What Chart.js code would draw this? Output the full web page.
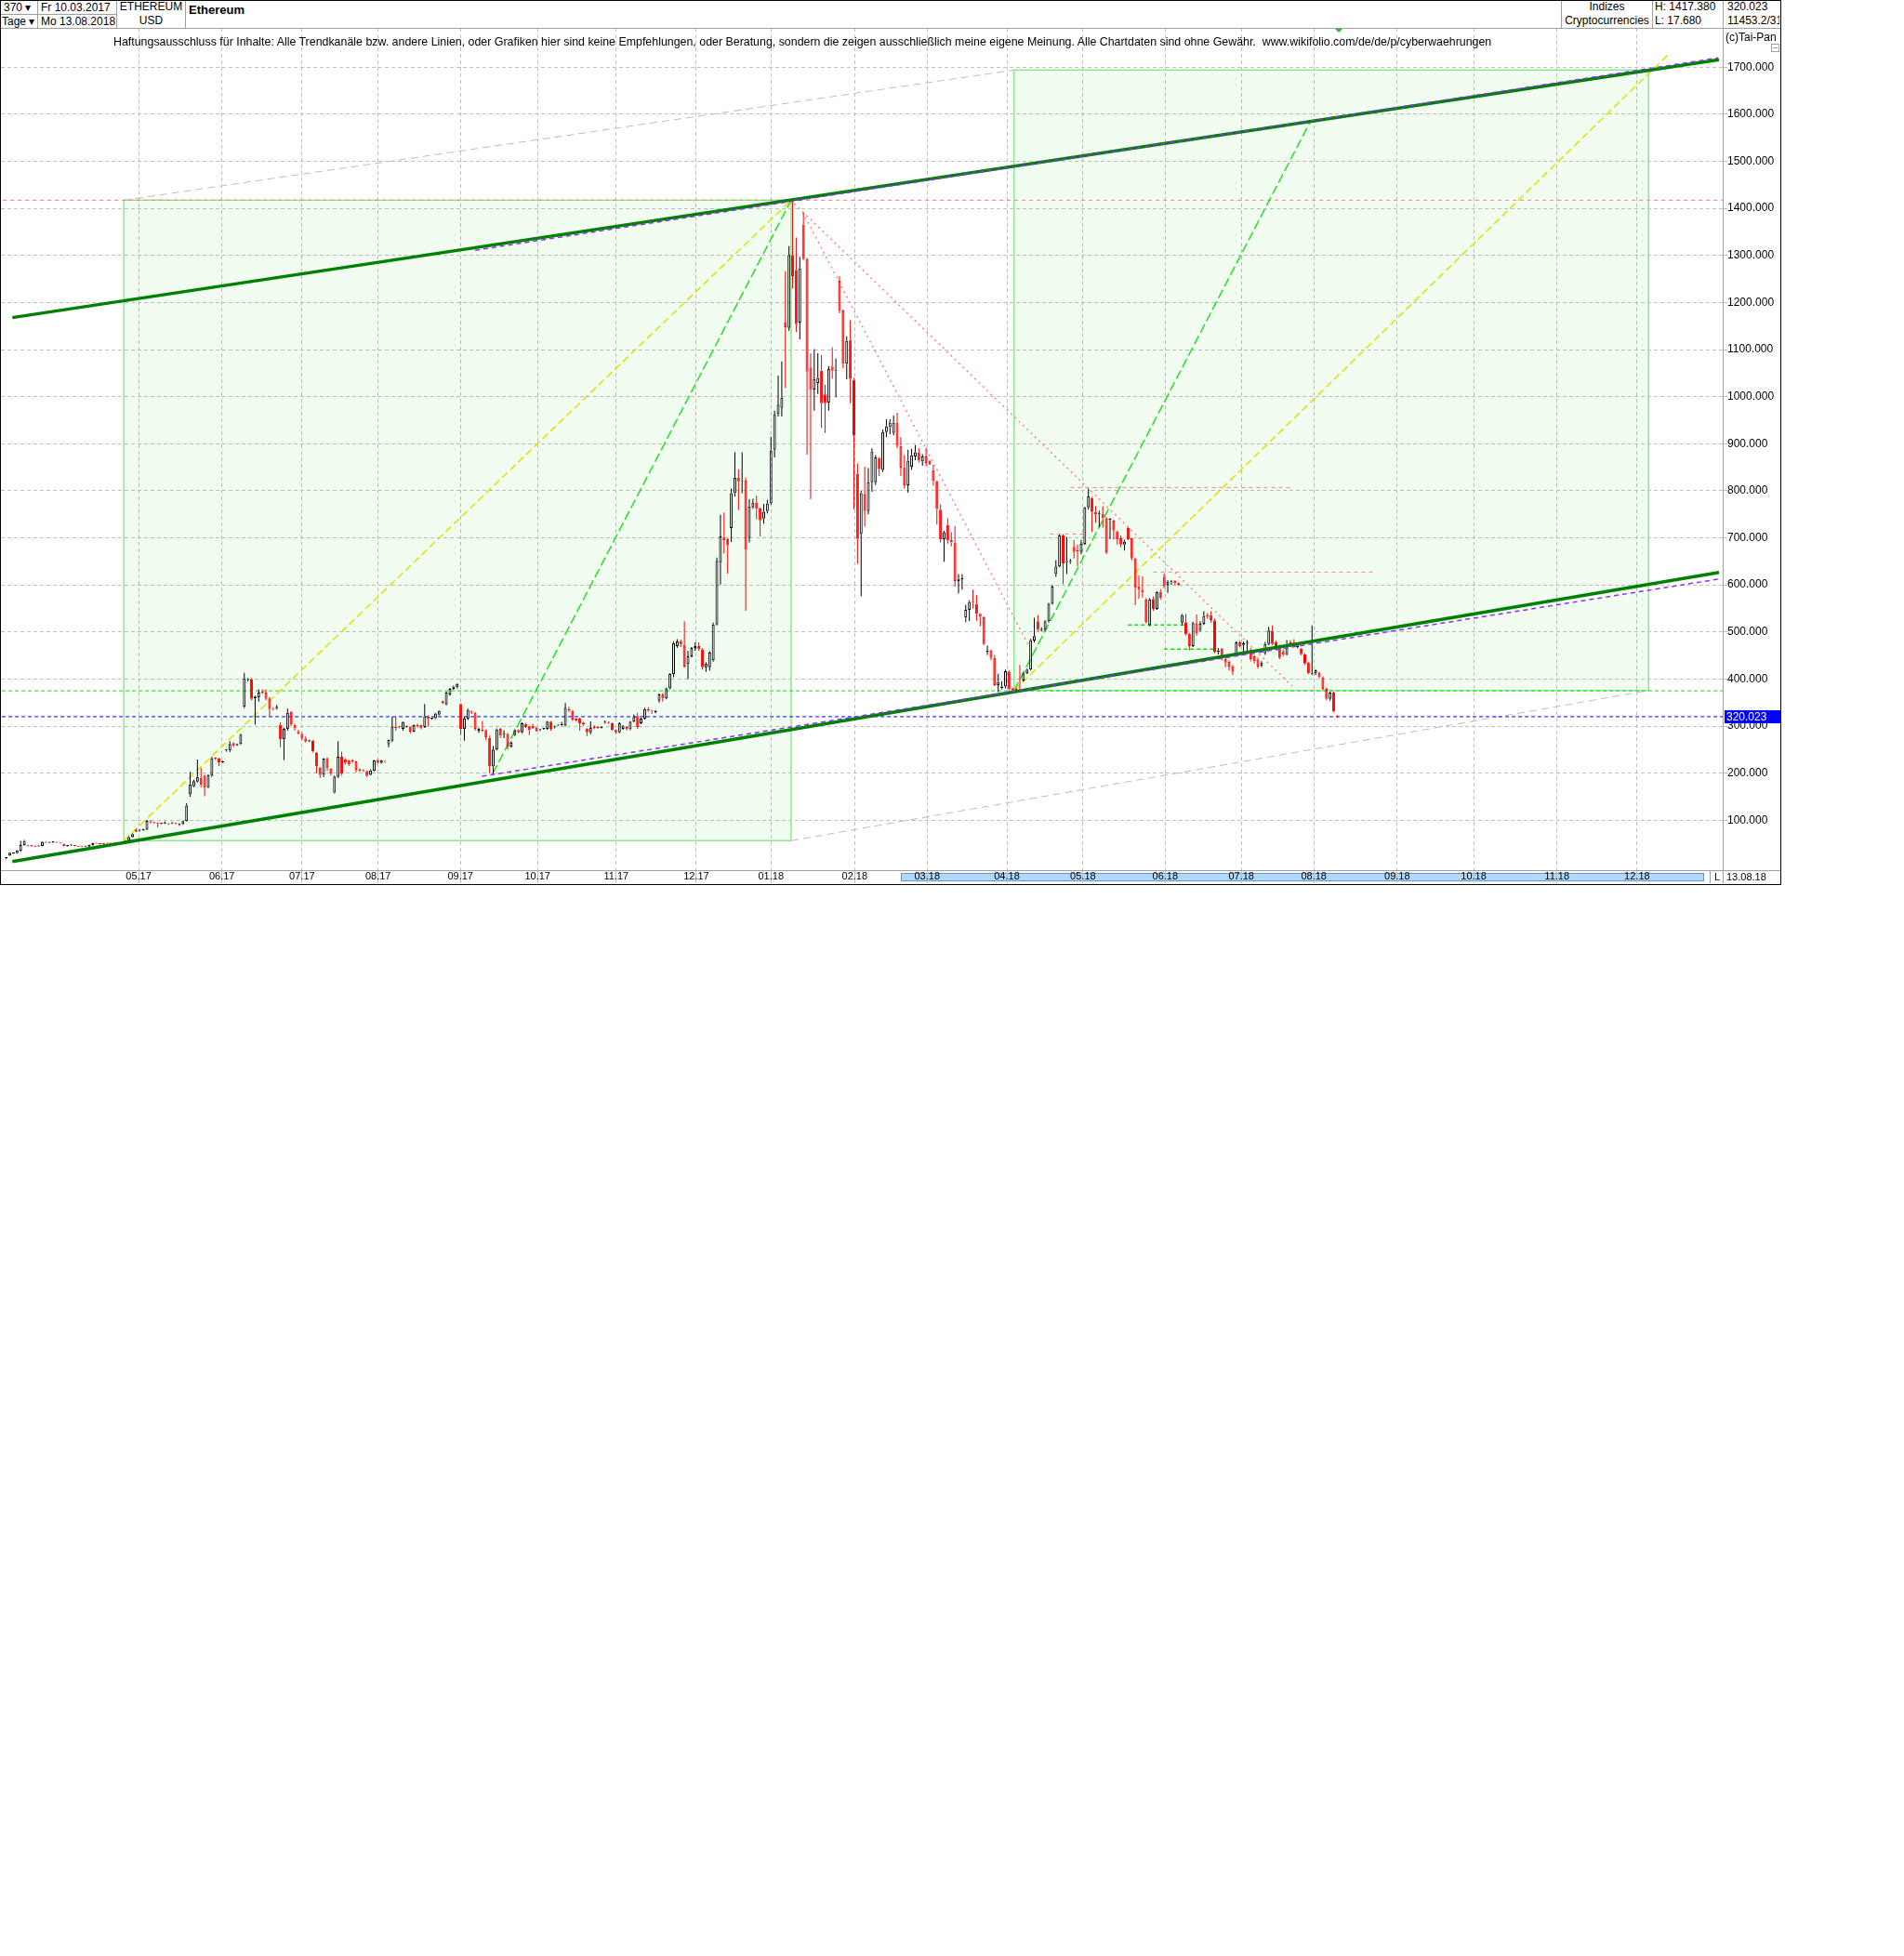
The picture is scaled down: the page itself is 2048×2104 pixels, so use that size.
<!DOCTYPE html>
<html lang="de">
<head>
<meta charset="utf-8">
<title>Ethereum</title>
<script src="https://cdn.jsdelivr.net/npm/chart.js@4.4.1/dist/chart.umd.min.js"></script>
<style>
  html, body { margin: 0; padding: 0; background: #ffffff; }
  body { position: relative; width: 2048px; height: 2104px; font-family: "Liberation Sans", Arial, sans-serif; color: #000; }
  .txt { position: absolute; white-space: nowrap; font-size: 12px; line-height: 14px; z-index: 3; }
  .vl { position: absolute; top: 0; width: 1px; height: 30px; background: #a0a0a0; }
  .hl { position: absolute; height: 1px; background: #a0a0a0; }
  #rahmen { position: absolute; left: 0; top: 0; width: 1916px; height: 952px; border: 1px solid #000; box-sizing: border-box; pointer-events: none; z-index: 5; }
  #grafik { position: absolute; left: 1px; top: 30px; }
  #marke { position: absolute; left: 1436px; top: 31px; width: 0; height: 0; border-left: 4px solid transparent; border-right: 4px solid transparent; border-top: 4px solid #22bb22; z-index: 4; }
  #knopf { position: absolute; left: 1905px; top: 47px; width: 7px; height: 7px; border: 1px solid #a0a0a0; z-index: 4; }
  #knopf:after { content: ""; position: absolute; left: 1px; top: 3px; width: 5px; height: 1px; background: #a0a0a0; }
</style>
</head>
<body>
<canvas id="grafik" width="1914" height="920"></canvas>

<!-- Kopfzeile -->
<div class="hl" style="left:0;top:30px;width:1916px"></div>
<div class="hl" style="left:0;top:15px;width:125px"></div>
<div class="vl" style="left:40px"></div>
<div class="vl" style="left:125px"></div>
<div class="vl" style="left:199px"></div>
<div class="vl" style="left:1679px"></div>
<div class="vl" style="left:1777px"></div>
<div class="vl" style="left:1853px"></div>
<div class="txt" style="left:4px;top:1px">370 ▾</div>
<div class="txt" style="left:2px;top:16px">Tage ▾</div>
<div class="txt" style="left:44px;top:1px">Fr 10.03.2017</div>
<div class="txt" style="left:44px;top:16px">Mo 13.08.2018</div>
<div class="txt" style="left:126px;top:0px;width:73px;text-align:center">ETHEREUM</div>
<div class="txt" style="left:126px;top:15px;width:73px;text-align:center">USD</div>
<div class="txt" style="left:203px;top:4px;font-weight:bold;font-size:13px">Ethereum</div>
<div class="txt" style="left:1680px;top:0px;width:97px;text-align:center">Indizes</div>
<div class="txt" style="left:1680px;top:15px;width:97px;text-align:center">Cryptocurrencies</div>
<div class="txt" style="left:1780px;top:0px">H: 1417.380</div>
<div class="txt" style="left:1780px;top:15px">L: 17.680</div>
<div class="txt" style="left:1858px;top:0px">320.023</div>
<div class="txt" style="left:1858px;top:15px;width:56px;overflow:hidden">11453.2/31</div>
<div class="txt" style="left:122px;top:38px;font-size:12.4px">Haftungsausschluss für Inhalte: Alle Trendkanäle bzw. andere Linien, oder Grafiken hier sind keine Empfehlungen, oder Beratung, sondern die zeigen ausschließlich meine eigene Meinung. Alle Chartdaten sind ohne Gewähr.&nbsp; www.wikifolio.com/de/de/p/cyberwaehrungen</div>
<div class="txt" style="left:1856px;top:33px">(c)Tai-Pan</div>
<div id="knopf"></div>
<div id="marke"></div>
<div id="rahmen"></div>

<script>
/* ---------------------------------------------
# ETHEREUM / USD - Tageskerzen 10.03.2017 bis 13.08.2018
--------------------------------------------- */

// Kursdaten (je 10 Tage pro Zeile)
const eroeffnung = [
    19.5, 25, 29.5, 30, 35, 47, 46, 46, 45, 44.5,
    45.5, 53, 52, 53, 53, 52, 49.5, 45.5, 46, 46,
    45, 44.5, 44, 44, 47, 51, 50, 49.5, 51, 51,
    51, 50.5, 50.5, 50, 56, 64, 80, 78, 79, 80,
    98, 95, 94, 93.5, 93, 92.5, 93, 94, 91, 91.5,
    98, 155, 172, 182, 190, 195, 170, 195, 233, 231,
    223, 248, 248, 264, 259, 262, 341, 398, 399, 359,
    361, 374, 371, 359, 338, 338, 303, 272, 294, 330,
    303, 289, 284, 274, 268, 269, 243, 212, 196.5, 232,
    209, 159, 192, 235, 230, 227, 228, 225, 208, 207,
    205, 196.5, 205, 228, 221.5, 225.5, 261, 269, 298, 299,
    294, 298.5, 299, 288, 302, 302, 298, 321, 316, 317,
    324.5, 353, 346, 367, 379, 382, 347, 294, 316, 331,
    328, 290, 293, 291.7, 275, 214, 250, 294, 282, 283,
    256.8, 281, 291.7, 286.5, 305, 299.7, 301, 296, 291, 294,
    294, 309.6, 297, 301, 302, 301, 336, 332.7, 316, 316,
    307.6, 295, 286.5, 297, 297, 296, 307, 308, 306, 291.7,
    286.5, 294, 298, 293, 309.6, 320.8, 306, 316, 336, 333,
    328.7, 353.8, 367, 359, 380, 410.6, 470, 480, 473, 431.7,
    448, 466, 470, 463, 425, 425, 439.6, 516, 646.8, 701.5,
    697, 720.6, 795, 828, 819, 822, 699.5, 765, 775, 763,
    741, 757, 773, 887, 963, 976, 1158.8, 1146, 1301, 1269.5,
    1157.5, 1366, 1292, 1062, 1015, 1029, 1055, 1004.6, 987.5, 1064,
    1054, 1246.5, 1183, 1070, 1120.6, 1035.6, 836, 708, 791.8, 756.8,
    818, 818, 870, 844.5, 925, 935, 923, 945, 895, 850,
    811.5, 851, 873, 882, 862, 873, 863.5, 844, 820.7, 760,
    697, 727, 695, 690, 608, 612, 530.6, 547, 564, 560,
    538.6, 531, 457, 461, 445, 387, 380.4, 384, 416, 380,
    379, 400, 397, 412, 420, 482, 522.7, 504, 504.3, 522.7,
    560, 623, 639.4, 705, 648, 649, 681, 674.6, 670, 687,
    765, 784.8, 755, 750, 751, 742, 738, 737, 714, 699,
    686, 721, 699, 656, 597, 590, 569, 514.2, 570, 549,
    584.8, 617.8, 600, 606, 608.6, 604, 520, 520.8, 496, 470,
    518.8, 504, 517.5, 536, 536, 525, 457, 464.7, 443, 437,
    427, 452.8, 478, 472.6, 477, 461.4, 448, 441.6, 428, 454.8,
    474.6, 503, 478, 471, 459, 452.8, 478, 479, 468, 464.7,
    452.8, 435, 410, 412, 413, 404, 379, 358, 371, 322
];
const hoch = [
    21, 32, 31, 37, 56, 58, 47, 47, 46, 46,
    55, 54, 53, 55, 54, 52.5, 50, 46.5, 48, 47,
    45.5, 45, 45, 47.5, 52, 52, 50.5, 51, 51.5, 51.5,
    51.5, 51.5, 51, 57, 66, 72, 82, 81, 82, 100,
    100, 96, 95, 94, 97, 93, 96, 95, 93, 99,
    136, 203, 186, 229, 211, 197, 198, 235, 234, 233,
    226, 251, 268, 266, 263, 284, 413, 402, 402, 365,
    378, 378, 378, 362, 340, 345, 308, 296, 337, 332,
    305, 292, 286, 278, 271, 271, 245, 213, 232, 234,
    210, 195, 268, 246, 232, 228, 230, 226, 210, 208,
    206, 208, 228, 230, 228, 226, 272, 320, 320, 300,
    310, 301, 300, 303, 305, 303, 347, 323, 318, 328,
    333, 355, 373, 381, 386, 391, 348, 320, 337, 333,
    330, 296, 311, 293, 280, 258, 295, 296, 291, 286,
    268, 293, 293, 308, 307, 301, 305, 297, 294, 296,
    311, 311, 301, 303, 309, 349, 341, 334, 317, 318,
    309, 296, 310, 302, 300, 299, 312, 310, 307, 293,
    308, 302, 300, 311, 325, 328, 318, 339, 340, 334,
    334, 369, 370, 382, 412, 480, 485, 484, 523, 460,
    468, 478, 478, 466, 436, 459, 520, 658, 749, 754,
    700, 805, 882, 846, 882, 828, 782, 783, 790, 765,
    772, 781, 915, 970, 1045, 1075, 1267, 1320, 1417.38, 1338,
    1297, 1391, 1295, 1092, 1101, 1092, 1088, 1025, 1065, 1105,
    1081, 1256, 1185, 1128, 1163, 1040, 858, 800, 851, 848,
    890, 876, 872, 930, 952, 952, 960, 966, 914, 876,
    887, 889, 897, 890, 878, 891, 866, 855, 822, 771,
    715, 741.6, 712, 725, 623, 623, 558, 567, 590, 578,
    540, 533, 471, 463, 451, 411, 395, 420, 418, 382,
    381, 430, 414, 422, 486, 530, 536, 510, 525, 562,
    600, 652.6, 707, 708, 702, 655, 695, 686, 695.7, 766,
    804.6, 787, 767, 758, 767, 744, 742, 739, 716, 705,
    696, 723, 700, 658, 620, 618, 572, 572, 575, 587,
    591, 624.4, 610, 610, 610, 606, 538, 538.6, 498, 522,
    537, 523, 544, 540, 544, 528, 466, 466, 446, 440,
    430, 480, 481, 480, 483, 466, 450, 446, 438, 479,
    511, 514, 482, 473, 463, 483, 483, 485, 477, 466,
    455, 437, 514, 420, 416, 406, 382, 373, 373, 323
];
const tief = [
    17.68, 24, 29, 29, 33, 46, 44, 44, 43, 44,
    45, 51, 51, 52, 51, 50, 45, 44.5, 45.5, 45,
    43.5, 43, 43.5, 43.5, 46.5, 49.5, 48.5, 49, 49.5, 49.5,
    49.5, 49.5, 49, 49, 55, 63, 75, 76, 78, 79,
    93, 92, 85, 91, 92, 90, 92, 91, 88, 90,
    97, 150, 170, 180, 170, 151, 168, 192, 228, 215,
    222, 246, 245, 255, 258, 260, 338, 395, 355, 303,
    352, 368, 355, 321, 333, 335, 255, 228, 290, 300,
    290, 282, 270, 265, 266, 244, 200, 190, 192, 205,
    195, 157, 190, 195, 218, 215, 222, 202, 203, 203,
    192, 195, 204, 220, 220, 222, 255, 266, 290, 295,
    290, 297, 285, 287, 297, 293, 296, 299, 314, 315,
    323, 347, 344, 365, 377, 380, 281, 269, 313, 326,
    290, 286, 288, 270, 201, 197, 248, 275, 274.6, 250,
    254, 279, 285, 285, 296, 281, 294, 288, 289, 292,
    292, 290, 295, 300, 301, 299, 330, 311, 309, 290,
    301, 279, 283, 293, 294, 295, 305, 305, 290, 284,
    285, 292, 290, 291, 308, 294, 304, 314, 330, 326,
    327, 350, 352, 357, 378, 404, 466, 468, 424, 400,
    446, 460, 460, 420, 415, 418, 437, 514, 601, 667,
    624, 691, 788, 759, 795, 545, 690, 762, 739, 703,
    730, 752, 770, 871, 958, 958, 1018, 1140, 1230, 1137,
    1122, 1290, 877, 782, 970, 1006, 933, 923, 970, 1038,
    999, 1177, 1060, 1037, 986, 761, 645, 576, 724, 750,
    798, 812, 831, 840, 914, 920, 918, 890, 831, 805,
    796, 845, 865, 860, 853, 852, 854, 811, 728, 690,
    649, 687.5, 682, 596.6, 582, 590, 521, 523, 550, 524,
    512, 472, 451, 440, 385, 372, 378, 380, 375.7, 372,
    373, 376, 395, 410, 418, 478, 501, 501, 502, 520,
    558, 617, 637, 602, 623, 645, 656, 640, 665, 685,
    760, 712, 732, 723, 722, 665, 697, 696, 686, 680,
    673, 695, 652, 557, 570, 573, 518, 512, 545, 547,
    568, 593, 583, 600, 600, 598, 514, 492, 461, 468,
    492, 501, 515, 528, 520, 455, 452, 440, 425, 418,
    408, 450, 467, 451, 457, 438, 433, 422, 425, 451,
    472, 472, 467, 443, 448, 450, 468, 470, 465, 450,
    430, 410, 408, 408, 402, 377, 355, 354, 329, 318
];
const schluss = [
    20, 31, 30, 36, 47, 56, 45, 45.5, 44, 45.5,
    54, 52, 52.3, 54, 52, 50.5, 45.5, 45.7, 47, 45.5,
    44, 44, 44.2, 47, 51, 50, 49, 50.5, 50, 50,
    50, 50, 49.5, 56, 64, 70.5, 77, 80, 81, 98.5,
    95, 94, 93, 92.5, 93.5, 91, 94.5, 93, 91.5, 98,
    131, 176, 183, 192, 175, 169, 196, 232, 231, 223,
    225, 249, 262, 258, 262, 282, 402, 399, 358, 363,
    371, 371, 358, 336, 336.5, 341, 272, 294, 328, 303.5,
    295, 284, 274, 267, 269.5, 246, 215, 196.5, 231, 210,
    198.5, 193, 235, 198.5, 222, 218, 225, 207, 205, 206,
    194, 206, 227, 221.5, 227, 224, 271, 299, 295, 297.5,
    309, 299.5, 288, 302, 299, 295, 321, 315, 317, 326.5,
    332, 349.5, 371, 379, 384, 389.5, 294, 316, 334.7, 328,
    294, 294, 290, 276.6, 214, 250, 293, 280, 283, 256.8,
    264.7, 291.7, 286.5, 306, 298, 291.7, 296, 290, 292, 294.5,
    309.6, 294, 298, 302, 303, 339, 332.7, 314, 311.5, 306,
    303, 286.5, 296, 296, 296, 297, 308, 306.5, 291.7, 286.5,
    306, 299.7, 293, 309.6, 319.5, 298, 316, 336, 332.7, 331,
    332.7, 367, 359, 380, 410.6, 476.6, 480, 473, 426.4, 448,
    466, 470, 463.4, 425, 433, 456, 516, 651, 702.8, 695,
    684, 795, 828, 820, 821, 675, 766.7, 775, 762, 737,
    755.5, 773, 886, 963, 983, 998, 1147.6, 1301, 1256, 1154,
    1272.8, 1292, 1053, 1014, 1037.6, 1040, 986, 986, 1058.7, 1055,
    1055, 1182.5, 1070, 1119, 1037.6, 917, 697.5, 795, 756.8, 818,
    884, 871, 846, 925, 937, 945, 945, 895, 849, 811.5,
    864, 875.5, 882, 864, 873, 859, 857, 820.7, 761.4, 696.8,
    712, 694, 690, 608, 613, 613, 547, 563.6, 562.3, 538.6,
    532, 474.6, 461, 445, 387, 394, 384, 416.6, 378, 376,
    377, 397.4, 412, 420, 483, 491, 504.3, 505.6, 522.7, 560.3,
    596.6, 639.4, 705, 646, 650.6, 651, 670, 670.6, 687, 765,
    788, 755, 750, 751, 742, 669.3, 741, 715.5, 696, 686,
    692.4, 697, 656, 593.4, 590, 583.5, 520.8, 569, 549.2, 584.8,
    571.6, 596.7, 606.6, 607, 603.3, 600, 536, 494.4, 470, 518.8,
    496.4, 517.5, 534, 532, 525.4, 458, 461, 443.6, 435, 426.4,
    415, 478, 470, 476, 478, 441.6, 438, 426.4, 435, 474.6,
    503, 474.6, 470, 445, 451.5, 474.6, 470, 472.6, 474.6, 452.8,
    433, 412, 412, 418.5, 404, 379, 357.8, 371, 331.4, 320.023
];

// Achsen: Monatsanfang als Kerzen-Position, Kursraster
const monat_pos = [36.7, 59.8, 82, 103.1, 125.9, 147.3, 169.1, 191.3, 212, 235.2,
                   255.3, 277.4, 298.5, 321.3, 342.4, 362.5, 385.6, 406.8, 429.9, 452.1];
const monat_text = ['05.17', '06.17', '07.17', '08.17', '09.17', '10.17', '11.17', '12.17', '01.18', '02.18',
                    '03.18', '04.18', '05.18', '06.18', '07.18', '08.18', '09.18', '10.18', '11.18', '12.18'];
const kurs_ticks = [100, 200, 300, 400, 500, 600, 700, 800, 900, 1000, 1100, 1200, 1300, 1400, 1500, 1600, 1700];
const letzter_kurs = 320.023;
const hoechst_kurs = 1417.38;
const unterstuetzung = 375;

// Eingezeichnete Linien [Kerze, Kurs]
const trend_oben = [[1.7, 1168], [474.8, 1716]];
const trend_unten = [[1.7, 12.3], [474.8, 626.4]];
const trend_oben_lila = [[130, 1311], [474.6, 1720]];
const trend_unten_lila = [[131.9, 193.4], [474.8, 612.5]];
const kasten_1 = [[32.6, 56.5], [217.6, 1417.38]];
const kasten_2 = [[279.4, 375.7], [455.3, 1694]];
const grau_oben = [[32.6, 1417.38], [279.4, 1694]];
const grau_unten = [[217.6, 56.5], [455.3, 375.7]];
const gelb_1 = [[32.6, 56.5], [217.6, 1417.38]];
const gelb_2 = [[279.4, 375.7], [461.3, 1731]];
const gruen_1 = [[134.9, 199.3], [217.6, 1417.38]];
const gruen_2 = [[279.4, 375.7], [361.5, 1584]];
const rot_1 = [[218.5, 1410], [356.5, 385]];
const rot_2 = [[220.8, 1392], [283.5, 470]];
const rot_waagerecht = [[[295, 807], [356, 807]], [[289.3, 708.3], [299.4, 708.3]], [[318, 627.3], [379, 627.3]]];
const gruen_waagerecht = [[[311, 514.8], [327, 514.8]], [[321, 463.4], [335, 463.4]]];

const SCHRIFT = '"Liberation Sans", Arial, sans-serif';

function punkte(liste) {
    return liste.map(p => ({ x: p[0], y: p[1] }));
}

function linie(liste, farbe, breite, strich, ordnung) {
    return {
        type: 'line',
        data: punkte(liste),
        borderColor: farbe,
        borderWidth: breite,
        borderDash: strich,
        pointRadius: 0,
        fill: false,
        tension: 0,
        order: ordnung
    };
}

function waagerecht(kurs, farbe, strich, ordnung) {
    return linie([[-3, kurs], [478, kurs]], farbe, 1, strich, ordnung);
}

// Kasten: Flaeche + Umriss
function kasten(k) {
    const x0 = k[0][0], y0 = k[0][1], x1 = k[1][0], y1 = k[1][1];
    const flaeche = {
        type: 'line',
        data: punkte([[x0, y1], [x1, y1]]),
        borderWidth: 0,
        pointRadius: 0,
        backgroundColor: 'rgba(0, 210, 0, 0.055)',
        fill: { value: y0 },
        order: 30
    };
    const umriss = linie([[x0, y0], [x1, y0], [x1, y1], [x0, y1], [x0, y0]], '#8fe88f', 1.5, [], 29);
    return [flaeche, umriss];
}

function steigt(i) {
    return schluss[i] >= eroeffnung[i];
}

// Kerzen: oberer Docht, unterer Docht, Koerper
function kerzen() {
    const docht_oben = [], docht_unten = [], koerper = [];
    for (let i = 0; i < schluss.length; i++) {
        const unten = Math.min(eroeffnung[i], schluss[i]);
        const oben = Math.max(eroeffnung[i], schluss[i]);
        docht_oben.push({ x: i, y: [oben, hoch[i]] });
        docht_unten.push({ x: i, y: [tief[i], unten] });
        koerper.push({ x: i, y: [unten, oben] });
    }
    const farbe_docht = c => steigt(c.dataIndex) ? '#000000' : '#ff0000';
    const docht = (daten) => ({
        type: 'bar',
        data: daten,
        barThickness: 1,
        backgroundColor: farbe_docht,
        borderWidth: 0,
        inflateAmount: 0,
        grouped: false,
        order: 8
    });
    return [
        docht(docht_oben),
        docht(docht_unten),
        {
            type: 'bar',
            data: koerper,
            barThickness: 3,
            minBarLength: 1,
            backgroundColor: c => steigt(c.dataIndex) ? 'rgba(255,255,255,0)' : '#ff0000',
            borderColor: farbe_docht,
            borderWidth: 1,
            borderSkipped: false,
            inflateAmount: 0,
            grouped: false,
            order: 7
        }
    ];
}

const rahmen_plugin = {
    id: 'rahmen_plugin',
    beforeDraw(chart) {
        const c = chart.ctx, a = chart.chartArea;
        // Rollbalken im Datumsstreifen
        c.save();
        c.fillStyle = '#b3d7f7';
        c.fillRect(968, a.bottom + 3, 864, 9);
        c.strokeStyle = '#5c9bd6';
        c.lineWidth = 1;
        c.strokeRect(968.5, a.bottom + 3.5, 863, 8);
        c.restore();
    },
    afterDraw(chart) {
        const c = chart.ctx, a = chart.chartArea;
        c.save();
        c.strokeStyle = '#a0a0a0';
        c.lineWidth = 1;
        c.beginPath();
        c.moveTo(a.right + 0.5, 0);
        c.lineTo(a.right + 0.5, chart.height);
        c.moveTo(0, a.bottom + 0.5);
        c.lineTo(chart.width, a.bottom + 0.5);
        c.moveTo(1838.5, a.bottom);
        c.lineTo(1838.5, chart.height);
        c.stroke();
        // letzter Kurs rechts
        const yk = chart.scales.y.getPixelForValue(letzter_kurs);
        c.fillStyle = '#0000ff';
        c.fillRect(a.right + 2, Math.round(yk) - 7, 60, 14);
        c.fillStyle = '#ffffff';
        c.font = '12px ' + SCHRIFT;
        c.textBaseline = 'middle';
        c.fillText(letzter_kurs.toFixed(3), a.right + 4, Math.round(yk) + 0.5);
        c.fillStyle = '#000000';
        c.font = '11px ' + SCHRIFT;
        c.fillText('L', 1843, a.bottom + 7.5);
        c.fillText('13.08.18', a.right + 4, a.bottom + 7.5);
        c.restore();
    }
};

function zeichne_chart() {
    const ctx = document.getElementById('grafik').getContext('2d');
    Chart.defaults.font.family = SCHRIFT;

    const datasets = [].concat(
        kasten(kasten_1),
        kasten(kasten_2),
        [
            linie(grau_oben, '#bdbdbd', 1, [8, 5], 20),
            linie(grau_unten, '#bdbdbd', 1, [8, 5], 20),
            waagerecht(hoechst_kurs, '#ff8080', [4, 4], 18),
            waagerecht(unterstuetzung, '#11dd11', [4, 3], 18),
            waagerecht(letzter_kurs, '#0000ff', [4, 3], 18),
            linie(gelb_1, '#e0e000', 1.5, [8, 4], 15),
            linie(gelb_2, '#e0e000', 1.5, [8, 4], 15),
            linie(gruen_1, '#22e022', 1.5, [10, 4], 15),
            linie(gruen_2, '#22e022', 1.5, [10, 4], 15),
            linie(rot_1, '#ff8080', 1.5, [2, 4], 15),
            linie(rot_2, '#ff8080', 1.5, [2, 4], 15)
        ],
        rot_waagerecht.map(l => linie(l, '#ff8080', 1, [4, 4], 16)),
        gruen_waagerecht.map(l => linie(l, '#11dd11', 1.5, [4, 3], 16)),
        kerzen(),
        [
            linie(trend_oben, '#008000', 3.5, [], 2),
            linie(trend_unten, '#008000', 3.5, [], 2),
            linie(trend_oben_lila, '#8f2cff', 1.5, [5, 4], 1),
            linie(trend_unten_lila, '#8f2cff', 1.5, [5, 4], 1)
        ]
    );

    const myChart = new Chart(ctx, {
        type: 'bar',
        data: { datasets: datasets },
        options: {
            responsive: false,
            animation: false,
            devicePixelRatio: 1,
            layout: { padding: 0 },
            plugins: { legend: { display: false }, tooltip: { enabled: false } },
            scales: {
                x: {
                    type: 'linear',
                    position: 'bottom',
                    min: -1.469,
                    max: 475.85,
                    offset: false,
                    afterBuildTicks: a => { a.ticks = monat_pos.map(v => ({ value: v })); },
                    afterFit: a => { a.height = 14; a.paddingLeft = 0; a.paddingRight = 0; },
                    grid: { color: '#c0c0c0', lineWidth: 1, offset: false, tickLength: 14 },
                    border: { display: false, dash: [4, 3] },
                    ticks: {
                        autoSkip: false,
                        maxRotation: 0,
                        minRotation: 0,
                        padding: -14,
                        color: '#000000',
                        font: { size: 11 },
                        callback: (v, i) => monat_text[i]
                    }
                },
                y: {
                    type: 'linear',
                    position: 'right',
                    min: -6.1,
                    max: 1783.55,
                    afterBuildTicks: a => { a.ticks = kurs_ticks.map(v => ({ value: v })); },
                    afterFit: a => { a.width = 62; a.paddingTop = 0; a.paddingBottom = 0; },
                    grid: { color: '#c0c0c0', lineWidth: 1, tickLength: 5 },
                    border: { display: false, dash: [4, 3] },
                    ticks: {
                        padding: 0,
                        color: '#000000',
                        font: { size: 12 },
                        callback: v => v.toFixed(3)
                    }
                }
            }
        },
        plugins: [rahmen_plugin]
    });
}

zeichne_chart();
</script>
</body>
</html>
